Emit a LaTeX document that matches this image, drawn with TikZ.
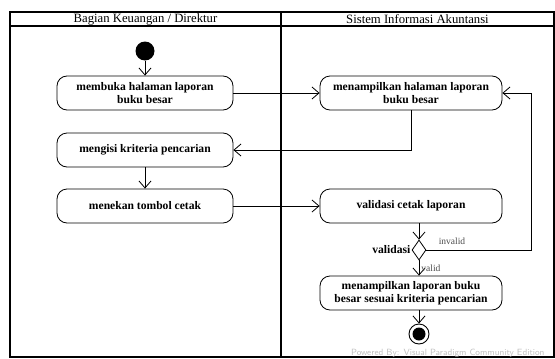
\documentclass[tikz,border=0pt]{standalone}
\usepackage{fontspec}
\setmainfont{Liberation Serif}
\usetikzlibrary{arrows.meta,shapes.geometric}
\begin{document}
\begin{tikzpicture}[x=1pt,y=-1pt,
  act/.style={draw, line width=0.8pt, rounded corners=10pt, minimum height=34pt, align=center,
    font=\fontsize{11.6}{13}\selectfont\bfseries, inner sep=2pt},
  flow/.style={draw, line width=0.8pt, -{Straight Barb[length=7pt,width=12pt]}},
  lane/.style={line width=1.8pt},
  hdr/.style={font=\fontsize{12.7}{14}\selectfont},
  glabel/.style={font=\fontsize{9.5}{10}\selectfont, text=black!70},
]
\useasboundingbox (0,0) rectangle (555,359);
% swimlanes
\draw[lane] (10,12) rectangle (554,357);
\draw[lane] (10,26) -- (554,26);
\draw[line width=2.6pt] (281,12) -- (281,357);
\node[hdr] (h1) at (145.5,19) {Bagian Keuangan / Direktur};
\node[hdr] (h2) at (417.5,19) {Sistem Informasi Akuntansi};
% nodes
\node[circle, fill=black, minimum size=19pt, inner sep=0] (init) at (145,51) {};
\node[act, minimum width=176pt] (n1) at (145,93) {membuka halaman laporan\\buku besar};
\node[act, minimum width=176pt] (n2) at (145,150) {mengisi kriteria pencarian};
\node[act, minimum width=176pt] (n3) at (145,206) {menekan tombol cetak};
\node[act, minimum width=182pt] (n4) at (411,93) {menampilkan halaman laporan\\buku besar};
\node[act, minimum width=182pt] (n5) at (411,206) {validasi cetak laporan};
\node[draw, line width=0.8pt, diamond, minimum width=14pt, minimum height=20pt, inner sep=0] (dec) at (419,250) {};
\node[font=\fontsize{11.6}{12}\selectfont\bfseries, anchor=east, inner sep=1pt] (declab) at (dec.west) {validasi};
\node[act, minimum width=182pt] (n6) at (411,293) {menampilkan laporan buku\\besar sesuai kriteria pencarian};
\node[circle, draw, line width=0.9pt, minimum size=20pt, inner sep=0] (fin) at (419,334) {};
\fill (fin.center) circle (6.5pt);
% connectors
\draw[flow] (init) -- (n1);
\draw[flow] (n1) -- (n4);
\draw[flow] (n4.south) |- (n2.east);
\draw[flow] (n2) -- (n3);
\draw[flow] (n3) -- (n5);
\draw[flow] (n5.south -| dec.north) -- (dec.north);
\draw[flow] (dec.south) -- (n6.north -| dec.south) node[glabel, midway, right, inner sep=1pt, xshift=1pt] (lv) {valid};
\coordinate (ic) at (531,250);
\draw[flow] (dec.east) -- (ic) |- (n4.east);
\node[glabel, anchor=south] (li) at (452,248) {invalid};
\draw[flow] (n6.south -| fin.north) -- (fin.north);
% footer
\node[font=\fontsize{9}{10}\selectfont\sffamily, text=black!25, anchor=east] (foot) at (548,353) {Powered By: Visual Paradigm Community Edition};
\end{tikzpicture}
\end{document}
